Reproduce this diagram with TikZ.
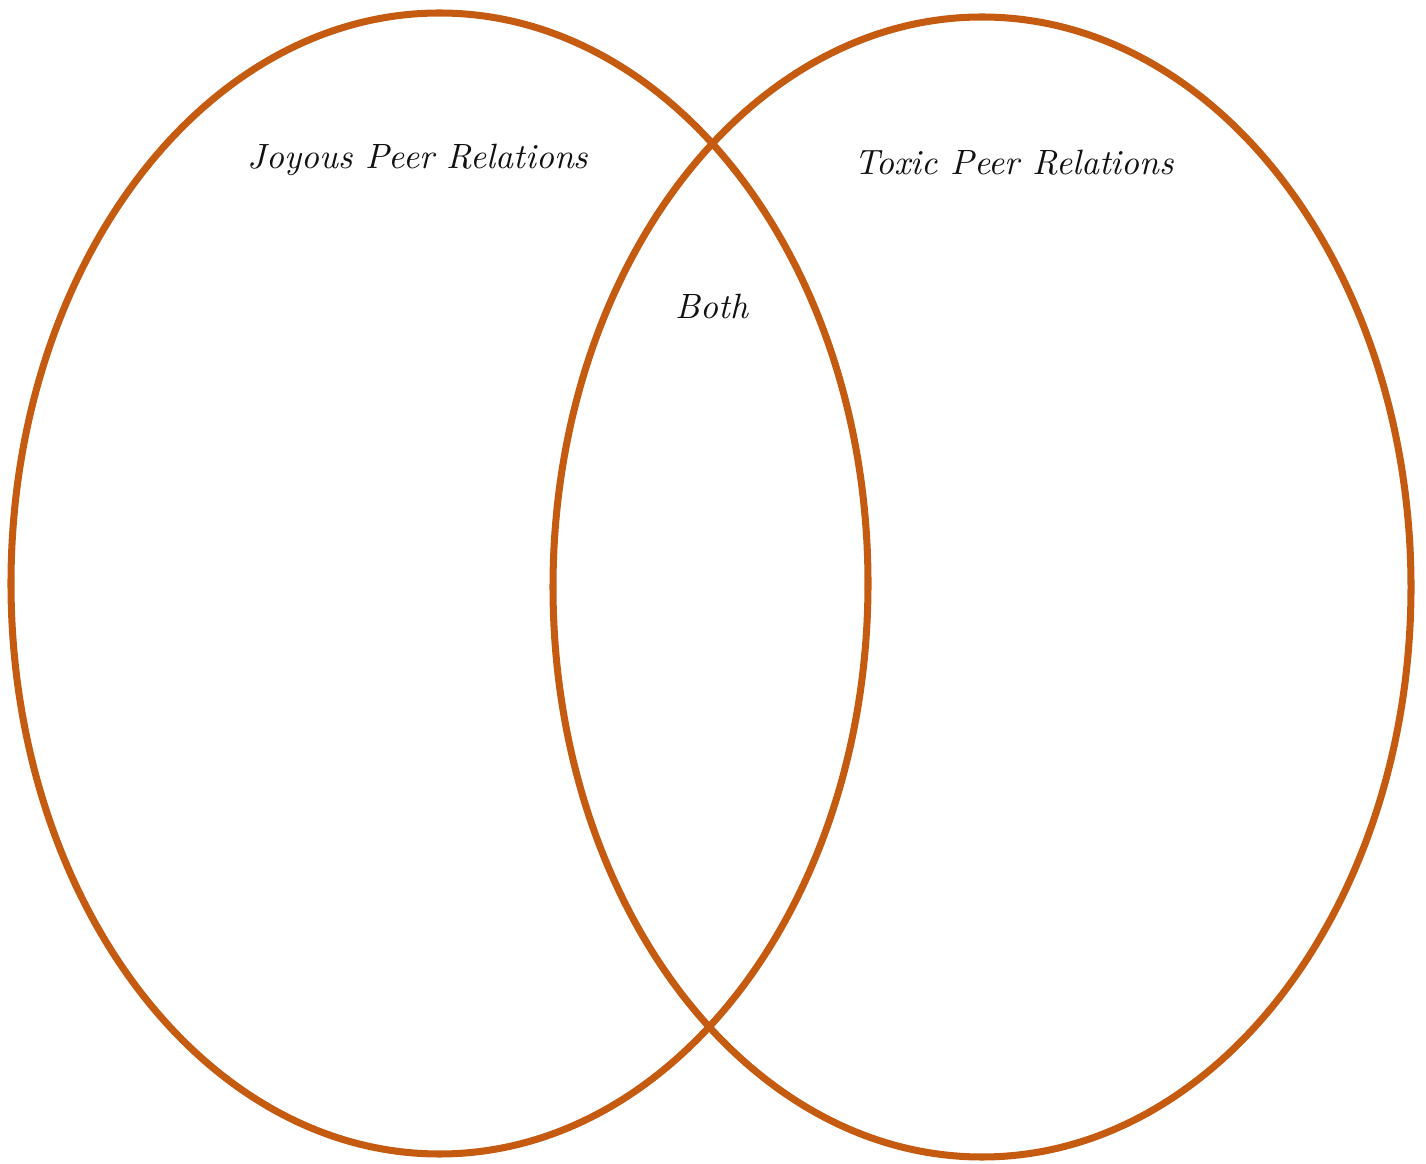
\documentclass[tikz,border=0pt]{standalone}
\usepackage{xcolor}
\usepackage{tikz}
\usetikzlibrary{positioning,shapes.geometric}
\definecolor{VennOrange}{HTML}{C55A11}
\definecolor{Ink}{HTML}{111111}
\tikzset{
  every picture/.style={line width=2pt},
  vennset/.style={
    ellipse,
    draw=VennOrange,
    line width=2pt,
    inner sep=0pt
  },
  setlabel/.style={
    font=\normalsize\itshape,
    text=Ink,
    inner sep=1pt
  }
}

\begin{document}
\begin{tikzpicture}
  \useasboundingbox (0,0) rectangle (14.26,11.63);

  \node[vennset, minimum width=8.57cm, minimum height=11.41cm] (joy) at (4.395,5.795) {};
  \node[vennset, minimum width=8.58cm, minimum height=11.40cm] (tox) at (9.82,5.76) {};

  \node[setlabel] (joylbl) at (4.18,10.03) {Joyous Peer Relations};
  \node[setlabel] (toxlbl) at (10.14,10.00) {Toxic Peer Relations};
  \node[setlabel] (bothlbl) at (7.12,8.56) {Both};
\end{tikzpicture}
\end{document}
